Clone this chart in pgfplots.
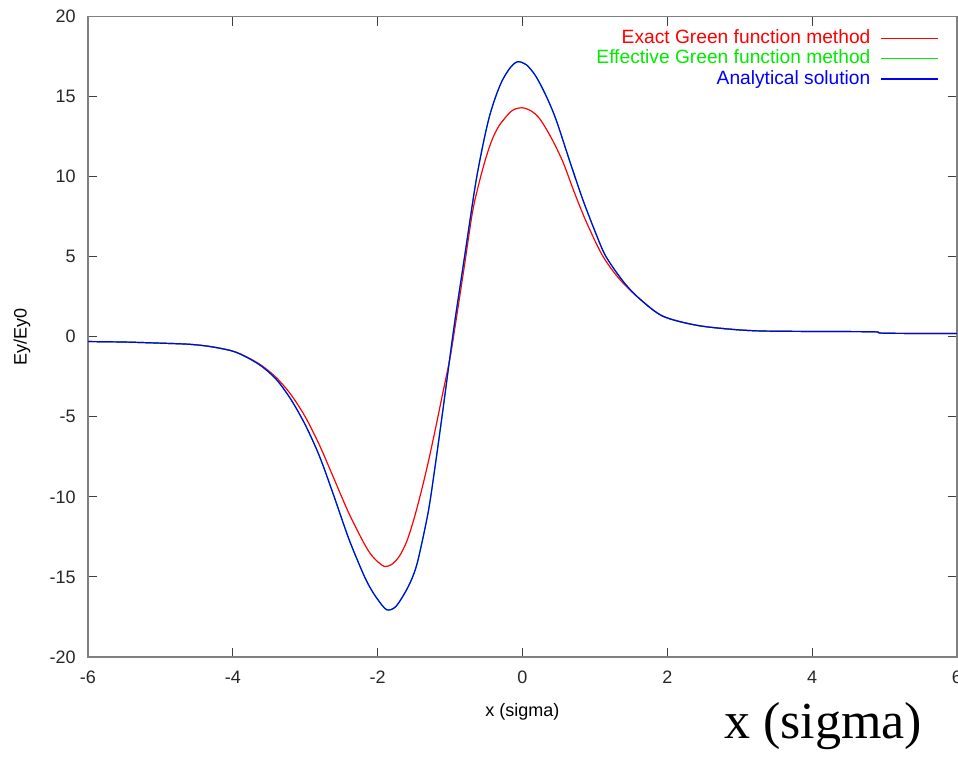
\documentclass[border=0pt]{standalone}
\usepackage{pgfplots}
\pgfplotsset{compat=1.18}
\usepackage{fontspec}
\setmainfont{Liberation Sans}
\newfontfamily\timesfont{Liberation Serif}
\definecolor{gpred}{RGB}{255,0,0}
\definecolor{gpgreen}{RGB}{0,235,0}
\definecolor{gpblue}{RGB}{0,0,255}
\begin{document}
\begin{tikzpicture}
\useasboundingbox (0,0) rectangle (479pt,378pt);
\begin{axis}[
  at={(44pt,49.5pt)}, anchor=south west,
  scale only axis, width=434.5pt, height=320.25pt,
  xmin=-6, xmax=6, ymin=-20, ymax=20,
  xtick={-6,-4,-2,0,2,4,6}, ytick={-20,-15,-10,-5,0,5,10,15,20},
  minor tick num=0,
  tick align=inside,
  major tick length=4.5pt,
  axis line style={black!50, line width=0.6pt},
  tick style={black!75, line width=0.5pt},
  /pgf/number format/assume math mode=true,
  ticklabel style={font=\fontsize{9}{10}\selectfont, text=black!85, inner sep=0pt},
  xticklabel style={anchor=base, yshift=-13pt},
  yticklabel style={anchor=east, xshift=-6pt},
  xlabel={x (sigma)}, ylabel={Ey/Ey0},
  label style={font=\fontsize{9}{10}\selectfont},
  xlabel style={at={([yshift=-27.5pt]axis description cs:0.5,0)}, anchor=center},
  ylabel style={at={([xshift=-33pt]axis description cs:0,0.5)}, anchor=center},
  legend style={at={([xshift=-9pt,yshift=-5.5pt]axis description cs:1,1)}, anchor=north east,
    draw=none, fill=none, inner sep=0pt, row sep=0pt, column sep=4pt,
    font=\fontsize{9.6}{10}\selectfont,
    nodes={inner sep=1pt, text height=6.7pt, text depth=1.5pt}},
  legend cell align=right,
  legend plot pos=right,
  legend image code/.code={\draw[#1] (0pt,0pt) -- (28.5pt,0pt);},
  every axis plot/.append style={line width=0.6pt, smooth},
]
\addplot[gpred] coordinates {
(-6,-0.30) (-5.5,-0.33) (-5.0,-0.40) (-4.6,-0.47) (-4.3,-0.62) (-4.0,-0.90)
(-3.8,-1.28) (-3.6,-1.8) (-3.4,-2.55) (-3.2,-3.6) (-3.0,-5.0) (-2.8,-6.8)
(-2.6,-8.9) (-2.4,-11.0) (-2.2,-12.8) (-2.1,-13.55) (-2.0,-14.05) (-1.9,-14.35)
(-1.8,-14.2) (-1.7,-13.7) (-1.6,-12.8) (-1.5,-11.4) (-1.4,-9.7) (-1.3,-7.8)
(-1.2,-5.7) (-1.1,-3.5) (-1.0,-1.3) (-0.93,0.66) (-0.8,4.5) (-0.69,7.8)
(-0.6,9.6) (-0.51,11.1) (-0.42,12.3) (-0.32,13.2) (-0.15,14.1)
(-0.01,14.3) (0.12,14.1) (0.24,13.6) (0.4,12.4) (0.56,10.9) (0.7,9.2)
(0.85,7.5) (1.0,6.0) (1.11,5.03) (1.25,4.1) (1.4,3.3)
(1.625,2.34) (1.94,1.28) (2.4,0.72) (2.875,0.47) (3.3,0.36) (4.0,0.33)
(4.85,0.31) (5.0,0.22) (6,0.20)
};
\addlegendentry[text=gpred]{Exact Green function method}
\addplot[gpgreen] coordinates {
(-6,-0.30) (-5.5,-0.33) (-5.0,-0.40) (-4.6,-0.47) (-4.3,-0.62) (-4.0,-0.90)
(-3.8,-1.30) (-3.6,-1.85) (-3.4,-2.66) (-3.2,-3.9) (-3.0,-5.5) (-2.8,-7.5)
(-2.6,-10.0) (-2.4,-12.6) (-2.2,-14.8) (-2.1,-15.7) (-2.0,-16.4) (-1.875,-17.05)
(-1.75,-16.85) (-1.6,-15.8) (-1.5,-14.8) (-1.43,-13.7) (-1.3,-10.9) (-1.21,-8.2)
(-1.1,-4.6) (-1.0,-1.2) (-0.93,1.1) (-0.79,5.3) (-0.65,9.5) (-0.55,11.9)
(-0.46,13.7) (-0.37,15.0) (-0.28,16.0) (-0.17,16.8) (-0.07,17.17)
(0.05,17.0) (0.18,16.3) (0.32,15.1) (0.46,13.6) (0.65,11.0) (0.83,8.6)
(1.0,6.6) (1.15,5.03) (1.4,3.4)
(1.625,2.34) (1.94,1.28) (2.4,0.72) (2.875,0.47) (3.3,0.36) (4.0,0.33)
(4.85,0.31) (5.0,0.22) (6,0.20)
};
\addlegendentry[text=gpgreen]{Effective Green function method}
\addplot[gpblue] coordinates {
(-6,-0.30) (-5.5,-0.33) (-5.0,-0.40) (-4.6,-0.47) (-4.3,-0.62) (-4.0,-0.90)
(-3.8,-1.30) (-3.6,-1.85) (-3.4,-2.66) (-3.2,-3.9) (-3.0,-5.5) (-2.8,-7.5)
(-2.6,-10.0) (-2.4,-12.6) (-2.2,-14.8) (-2.1,-15.7) (-2.0,-16.4) (-1.875,-17.05)
(-1.75,-16.85) (-1.6,-15.8) (-1.5,-14.8) (-1.43,-13.7) (-1.3,-10.9) (-1.21,-8.2)
(-1.1,-4.6) (-1.0,-1.2) (-0.93,1.1) (-0.79,5.3) (-0.65,9.5) (-0.55,11.9)
(-0.46,13.7) (-0.37,15.0) (-0.28,16.0) (-0.17,16.8) (-0.07,17.17)
(0.05,17.0) (0.18,16.3) (0.32,15.1) (0.46,13.6) (0.65,11.0) (0.83,8.6)
(1.0,6.6) (1.15,5.03) (1.4,3.4)
(1.625,2.34) (1.94,1.28) (2.4,0.72) (2.875,0.47) (3.3,0.36) (4.0,0.33)
(4.85,0.31) (5.0,0.22) (6,0.20)
};
\addlegendentry[text=gpblue]{Analytical solution}
\end{axis}
\node[font=\timesfont\fontsize{26}{30}\selectfont, anchor=base] at (411.5pt,9pt) {x (sigma)};
\end{tikzpicture}
\end{document}
